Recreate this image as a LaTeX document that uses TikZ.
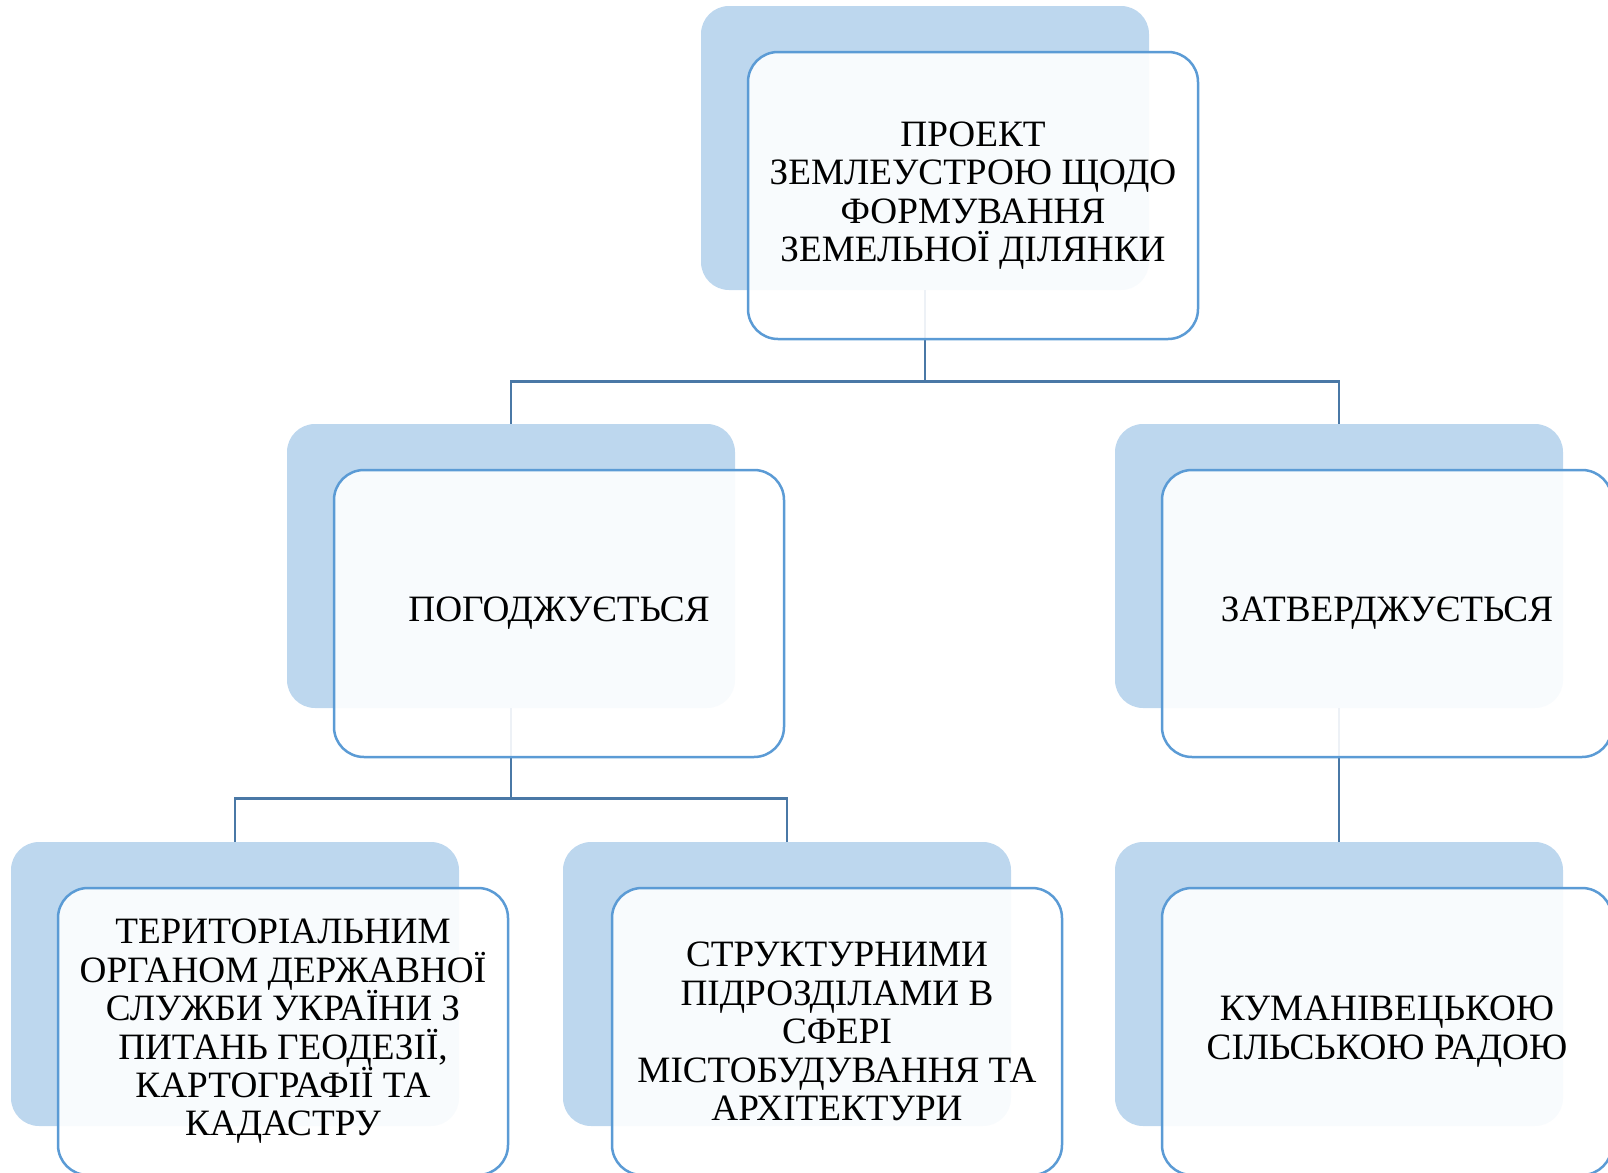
\documentclass[tikz,border=0pt]{standalone}
\usepackage{fontspec}
\setmainfont{Liberation Serif}

\begin{document}
\begin{tikzpicture}[x=0.5pt,y=0.5pt,
    backbox/.style={rectangle,rounded corners=14pt,fill=backblue,inner sep=0pt,
      minimum width=224pt,minimum height=142pt},
    frontbox/.style={rectangle,rounded corners=15pt,draw=edgeblue,line width=1.25pt,
      fill=white,fill opacity=0.9,text opacity=1,inner sep=0pt,align=center,
      minimum width=225pt,minimum height=143.5pt,
      font=\fontsize{18.6}{19.2}\selectfont},
    link/.style={draw=linkblue,line width=1.3pt}]
    % colours and page frame %
    \definecolor{backblue}{HTML}{BDD7EE}
    \definecolor{edgeblue}{HTML}{5B9BD5}
    \definecolor{linkblue}{HTML}{4A78A6}
    \useasboundingbox (0,0) rectangle (1608,-1173);

    % shaded back boxes %
    \node[backbox] (proj-bg)    at (925,-148) {};
    \node[backbox] (agree-bg)   at (511,-566) {};
    \node[backbox] (appr-bg)    at (1339,-566) {};
    \node[backbox] (organ-bg)   at (235,-984) {};
    \node[backbox] (struct-bg)  at (787,-984) {};
    \node[backbox] (council-bg) at (1339,-984) {};

    % connectors %
    \draw[link] (proj-bg.south) -- ++(0,-91) -| (agree-bg.north);
    \draw[link] (proj-bg.south) -- ++(0,-91) -| (appr-bg.north);
    \draw[link] (agree-bg.south) -- ++(0,-90) -| (organ-bg.north);
    \draw[link] (agree-bg.south) -- ++(0,-90) -| (struct-bg.north);
    \draw[link] (appr-bg.south) -- (council-bg.north);

    % front boxes with text %
    \node[frontbox] (proj) at ([shift={(48,-47.5)}]proj-bg.center)
      {ПРОЕКТ\\ЗЕМЛЕУСТРОЮ ЩОДО\\ФОРМУВАННЯ\\ЗЕМЕЛЬНОЇ ДІЛЯНКИ};
    \node[frontbox] (agree) at ([shift={(48,-47.5)}]agree-bg.center)
      {ПОГОДЖУЄТЬСЯ};
    \node[frontbox] (appr) at ([shift={(48,-47.5)}]appr-bg.center)
      {ЗАТВЕРДЖУЄТЬСЯ};
    \node[frontbox] (organ) at ([shift={(48,-47.5)}]organ-bg.center)
      {ТЕРИТОРІАЛЬНИМ\\ОРГАНОМ ДЕРЖАВНОЇ\\СЛУЖБИ УКРАЇНИ З\\ПИТАНЬ ГЕОДЕЗІЇ,\\КАРТОГРАФІЇ ТА\\КАДАСТРУ};
    \node[frontbox] (struct) at ([shift={(50,-47.5)}]struct-bg.center)
      {СТРУКТУРНИМИ\\ПІДРОЗДІЛАМИ В\\СФЕРІ\\МІСТОБУДУВАННЯ ТА\\АРХІТЕКТУРИ};
    \node[frontbox] (council) at ([shift={(48,-47.5)}]council-bg.center)
      {КУМАНІВЕЦЬКОЮ\\СІЛЬСЬКОЮ РАДОЮ};
  \end{tikzpicture}
\end{document}
